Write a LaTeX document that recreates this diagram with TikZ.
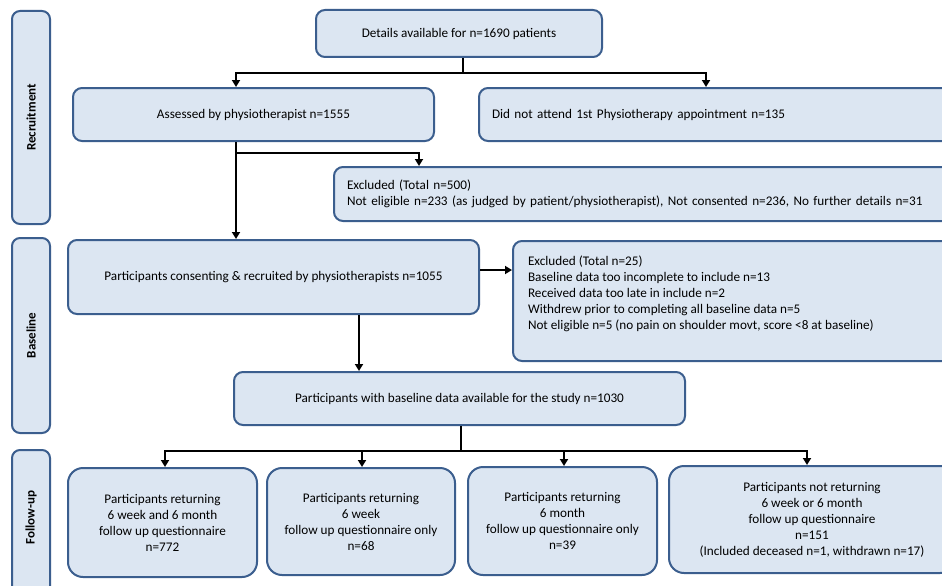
\documentclass[tikz,border=0pt]{standalone}
\usepackage{fontspec}
\setmainfont{Carlito}
\usetikzlibrary{arrows.meta}
\definecolor{boxfill}{HTML}{DCE6F2}
\definecolor{boxdraw}{HTML}{3B5E8E}
\tikzset{
  box/.style={draw=boxdraw, fill=boxfill, line width=2pt, rounded corners=9pt,
    inner sep=0pt, font=\fontsize{13.2}{16}\selectfont, align=center},
  fubox/.style={box, rounded corners=15pt},
  side/.style={draw=boxdraw, fill=boxfill, line width=2pt, rounded corners=8pt, inner sep=0pt},
  sidelabel/.style={font=\fontsize{13}{15}\selectfont\bfseries, rotate=90},
  arr/.style={line width=2pt, -{Triangle[length=7pt,width=8pt]}},
  ln/.style={line width=2pt}
}
\begin{document}
\begin{tikzpicture}[x=1pt,y=-1pt]
\useasboundingbox (0,0) rectangle (942,586);
\clip (0,0) rectangle (942,586);
\fill[white] (0,0) rectangle (942,586);
% side boxes
\node[side, minimum width=38pt, minimum height=213pt] (rec) at (31,117.5) {};
\node[sidelabel] (recl) at (rec.center) {Recruitment};
\node[side, minimum width=38pt, minimum height=195pt] (bas) at (31,335.5) {};
\node[sidelabel] (basl) at (bas.center) {Baseline};
\node[side, minimum width=38pt, minimum height=160pt] (fol) at (31,530) {};
\node[sidelabel] (foll) at (31,517.5) {Follow-up};
% main boxes
\node[box, minimum width=286pt, minimum height=47pt] (top) at (459,33.5) {Details available for n=1690 patients};
\node[box, minimum width=361pt, minimum height=53pt] (ass) at (253.5,114.5) {Assessed by physiotherapist n=1555};
\node[box, minimum height=53pt, text width=451pt, align=left, inner xsep=13pt, anchor=west] (dna) at (478,114.5) {Did not attend 1st Physiotherapy appointment n=135};
\node[box, minimum height=54pt, text width=596pt, align=left, inner xsep=13pt, anchor=west] (ex1) at (333,194) {Excluded (Total n=500)\\Not eligible n=233 (as judged by patient/physiotherapist), Not consented n=236, No further details n=31};
\node[box, minimum width=411pt, minimum height=74pt] (con) at (273.5,277) {Participants consenting \& recruited by physiotherapists n=1055};
\node[box, inner xsep=15pt, inner ysep=14.5pt, anchor=north west, align=left] (ex2) at (512,240) {\parbox[t][91pt][t]{413pt}{Excluded (Total n=25)\\Baseline data too incomplete to include n=13\\Received data too late in include n=2\\Withdrew prior to completing all baseline data n=5\\Not eligible n=5 (no pain on shoulder movt, score <8 at baseline)}};
\node[box, minimum width=451pt, minimum height=53pt] (bd) at (459.5,398.5) {Participants with baseline data available for the study n=1030};
% follow-up boxes
\node[fubox, minimum width=189pt, minimum height=109pt] (f1) at (162.5,522.5) {Participants returning\\6 week and 6 month\\follow up questionnaire\\n=772};
\node[fubox, minimum width=188pt, minimum height=107pt] (f2) at (361,521.5) {Participants returning\\6 week\\follow up questionnaire only\\n=68};
\node[fubox, minimum width=189pt, minimum height=108pt] (f3) at (562.5,521) {Participants returning\\6 month\\follow up questionnaire only\\n=39};
\node[fubox, minimum width=286pt, minimum height=107pt] (f4) at (812,519.5) {Participants not returning\\6 week or 6 month\\follow up questionnaire\\n=151\\(Included deceased n=1, withdrawn n=17)};
% connectors
\coordinate (j1) at (463,73);
\coordinate (xa) at (236,0);
\coordinate (xd) at (706,0);
\draw[ln] (top.south -| j1) -- (j1);
\draw[arr] (j1) -| (ass.north -| xa);
\draw[arr] (j1) -| (dna.north -| xd);
\coordinate (j2) at (236,153);
\coordinate (xe) at (419,0);
\draw[arr] (ass.south -| xa) -- (con.north -| xa);
\draw[arr] (j2) -| (ex1.north -| xe);
\coordinate (yc) at (0,270);
\draw[arr] (con.east |- yc) -- (ex2.west |- yc);
\coordinate (xc) at (359,0);
\draw[arr] (con.south -| xc) -- (bd.north -| xc);
\coordinate (j3) at (461,451);
\draw[ln] (bd.south -| j3) -- (j3);
\coordinate (x1) at (165,0);
\coordinate (x2) at (362,0);
\coordinate (x3) at (564,0);
\coordinate (x4) at (807,0);
\draw[arr] (j3) -| (f1.north -| x1);
\draw[arr] (j3) -| (f4.north -| x4);
\draw[arr] (j3 -| x2) -- (f2.north -| x2);
\draw[arr] (j3 -| x3) -- (f3.north -| x3);
\end{tikzpicture}
\end{document}
